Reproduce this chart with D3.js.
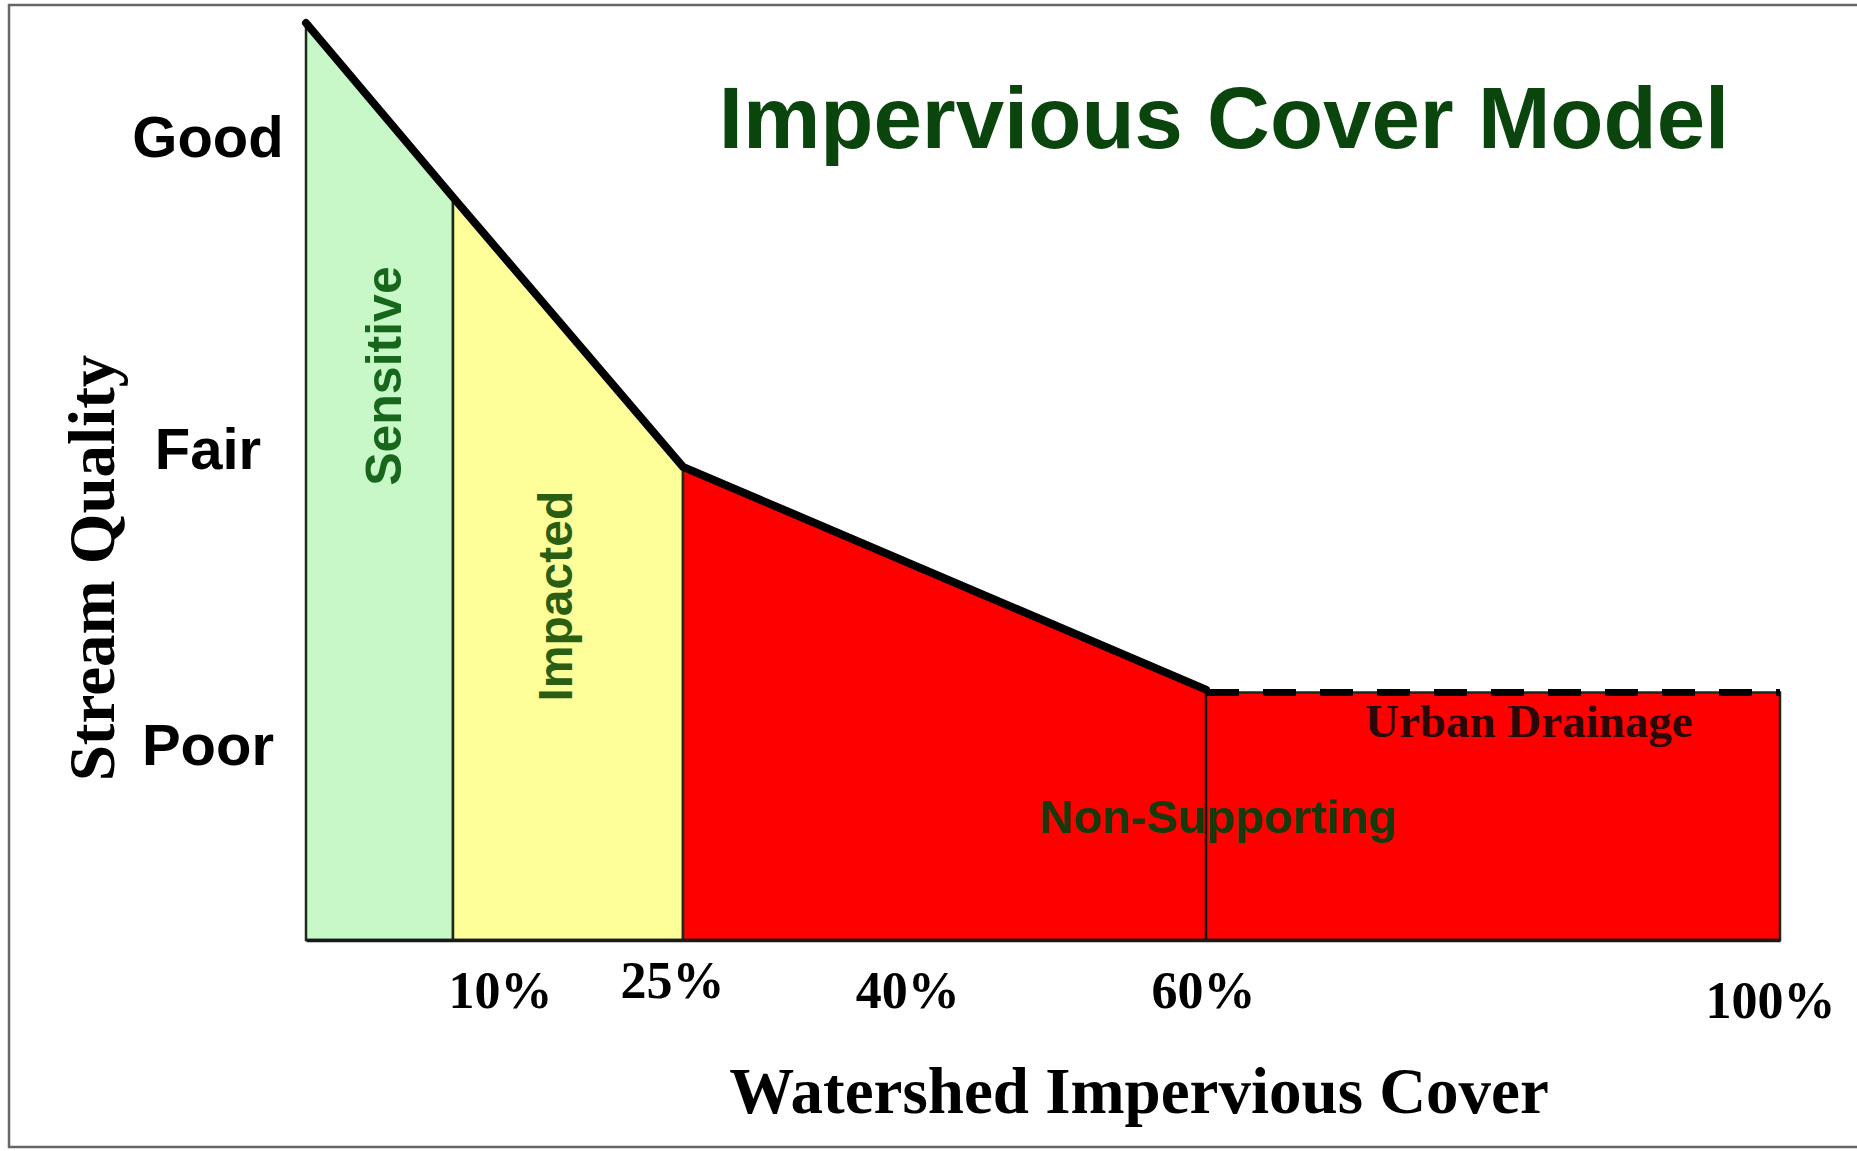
<!doctype html>
<html>
  <head>
    <script src="https://cdn.jsdelivr.net/npm/d3@7/dist/d3.min.js"></script>
    <style>
    body { margin: 0; background: #fff; }
    svg { display: block; }
    .sans { font-family: "Liberation Sans", Arial, sans-serif; font-weight: bold; }
    .serif { font-family: "Liberation Serif", "Times New Roman", serif; font-weight: bold; }
    </style>
  </head>
  <body>
    <svg id="chart" width="1857" height="1151"></svg>
    <script>
      // watershed impervious cover (%) and the stream quality index
      var imperv  = [0, 10, 25, 60, 100];
      var quality = [100, 81, 51.6, 27.3, 27.0];

      // zones of the model
      var zoneNames  = ["Sensitive", "Impacted", "Non-Supporting"];
      var zoneStart  = [0, 10, 25];
      var zoneEnd    = [10, 25, 100];
      var zoneColors = ["#c8f8c8", "#ffff99", "#ff0000"];

      // where urban drainage starts (dashed part of the curve)
      var drainStart = 60;

      // axis labels
      var xTicks = [10, 25, 40, 60, 100];
      var yTickLabels = ["Poor", "Fair", "Good"];
      var yTickValues = [21.4, 53.7, 87.7];

      var svg = d3.select("#chart");

      // hand-drawn axis: the breakpoints are not evenly spaced
      var x = d3.scaleLinear()
        .domain([0, 10, 25, 60, 100])
        .range([306, 453, 683, 1206, 1780]);
      var y = d3.scaleLinear().domain([0, 100]).range([940, 23]);

      // outer frame
      svg.append("rect")
        .attr("x", 9).attr("y", 5)
        .attr("width", 1870).attr("height", 1142)
        .attr("fill", "none")
        .attr("stroke", "#666")
        .attr("stroke-width", 2.5);

      var qualityAt = d3.scaleLinear().domain(imperv).range(quality);

      function zonePoints(a, b) {
        var pts = [a];
        imperv.forEach(function(v) { if (v > a && v < b) pts.push(v); });
        pts.push(b);
        return pts.map(function(v) {
          var q = v === drainStart ? quality[imperv.indexOf(v)] : qualityAt(v);
          return { x: v, q: q };
        });
      }

      var area = d3.area()
        .x(function(d) { return x(d.x); })
        .y0(y(0))
        .y1(function(d) { return y(d.q); });

      svg.selectAll("path.zone")
        .data(zoneNames)
        .enter()
        .append("path")
          .attr("class", "zone")
          .attr("d", function(d, i) {
            var pts = zonePoints(zoneStart[i], zoneEnd[i]);
            if (i === 2) {
              // flat top for the urban drainage part
              pts = pts.filter(function(p) { return p.x <= drainStart; });
              pts.push({ x: drainStart, q: quality[4] });
              pts.push({ x: 100, q: quality[4] });
            }
            return area(pts) + "Z";
          })
          .attr("fill", function(d, i) { return zoneColors[i]; })
          .attr("stroke", "#1c2a1c")
          .attr("stroke-width", 2.5)
          .attr("stroke-linejoin", "miter");

      // divider at 60%
      svg.append("line")
        .attr("x1", x(drainStart)).attr("x2", x(drainStart))
        .attr("y1", y(quality[4])).attr("y2", y(0))
        .attr("stroke", "#111")
        .attr("stroke-width", 2.5);

      // thick curve, solid up to 60%
      var solid = imperv.map(function(v, i) { return { x: v, q: quality[i] }; })
        .filter(function(d) { return d.x <= drainStart; });

      var line = d3.line()
        .x(function(d) { return x(d.x); })
        .y(function(d) { return y(d.q); });

      svg.append("path")
        .attr("d", line(solid))
        .attr("fill", "none")
        .attr("stroke", "#000")
        .attr("stroke-width", 8)
        .attr("stroke-linecap", "round")
        .attr("stroke-linejoin", "round");

      svg.append("path")
        .attr("d", line([{ x: drainStart, q: quality[4] }, { x: 100, q: quality[4] }]))
        .attr("fill", "none")
        .attr("stroke", "#000")
        .attr("stroke-width", 7)
        .attr("stroke-dasharray", "33 24");

      // x axis
      var tickNudge = { 10: [47, 0], 25: [-11, -10], 60: [-3, 0], 100: [-10, 10] };

      var xAxis = svg.append("g")
        .attr("transform", "translate(0," + y(0) + ")")
        .call(d3.axisBottom(x)
          .tickValues(xTicks)
          .tickFormat(function(d) { return d + "%"; })
          .tickSize(0));

      xAxis.select(".domain")
        .attr("stroke", "#1a1a1a")
        .attr("stroke-width", 3.5);

      xAxis.selectAll("text")
        .attr("class", "serif")
        .attr("font-size", 52)
        .attr("fill", "#000")
        .attr("dy", null)
        .attr("x", function(d) { return (tickNudge[d] || [0, 0])[0]; })
        .attr("y", function(d) { return 68 + (tickNudge[d] || [0, 0])[1]; });

      // y axis
      var yAxis = svg.append("g")
        .attr("transform", "translate(" + x(0) + ",0)")
        .call(d3.axisLeft(y)
          .tickValues(yTickValues)
          .tickFormat(function(d, i) { return yTickLabels[i]; })
          .tickSize(0));

      yAxis.select(".domain").remove();

      yAxis.selectAll("text")
        .attr("class", "sans")
        .attr("font-size", 58)
        .attr("fill", "#000")
        .attr("text-anchor", "middle")
        .attr("x", -98)
        .attr("dy", "0.36em");

      // titles
      svg.append("text")
        .attr("class", "sans")
        .attr("x", 1224).attr("y", 148)
        .attr("text-anchor", "middle")
        .attr("font-size", 87)
        .attr("fill", "#0a450e")
        .text("Impervious Cover Model");

      svg.append("text")
        .attr("class", "serif")
        .attr("x", 1139).attr("y", 1113)
        .attr("text-anchor", "middle")
        .attr("font-size", 65)
        .attr("fill", "#000")
        .text("Watershed Impervious Cover");

      svg.append("text")
        .attr("class", "serif")
        .attr("transform", "translate(114,568) rotate(-90)")
        .attr("text-anchor", "middle")
        .attr("font-size", 65)
        .attr("fill", "#000")
        .text("Stream Quality");

      // zone labels
      svg.append("text")
        .attr("class", "sans")
        .attr("transform", "translate(" + ((x(0) + x(10)) / 2 + 3) + "," + y(61.5) + ") rotate(-90)")
        .attr("text-anchor", "middle")
        .attr("dy", "0.36em")
        .attr("font-size", 50)
        .attr("fill", "#17661c")
        .text(zoneNames[0]);

      svg.append("text")
        .attr("class", "sans")
        .attr("transform", "translate(" + ((x(10) + x(25)) / 2 - 13) + "," + y(37.5) + ") rotate(-90)")
        .attr("text-anchor", "middle")
        .attr("dy", "0.36em")
        .attr("font-size", 48)
        .attr("fill", "#2a5e12")
        .text(zoneNames[1]);

      svg.append("text")
        .attr("class", "sans")
        .attr("x", x(60) + 12).attr("y", y(11.7))
        .attr("text-anchor", "middle")
        .attr("font-size", 47)
        .attr("fill", "#163a0b")
        .text(zoneNames[2]);

      svg.append("text")
        .attr("class", "serif")
        .attr("x", x(82.5)).attr("y", y(22.1))
        .attr("text-anchor", "middle")
        .attr("font-size", 47)
        .attr("fill", "#2b0808")
        .text("Urban Drainage");
    </script>
  </body>
</html>
